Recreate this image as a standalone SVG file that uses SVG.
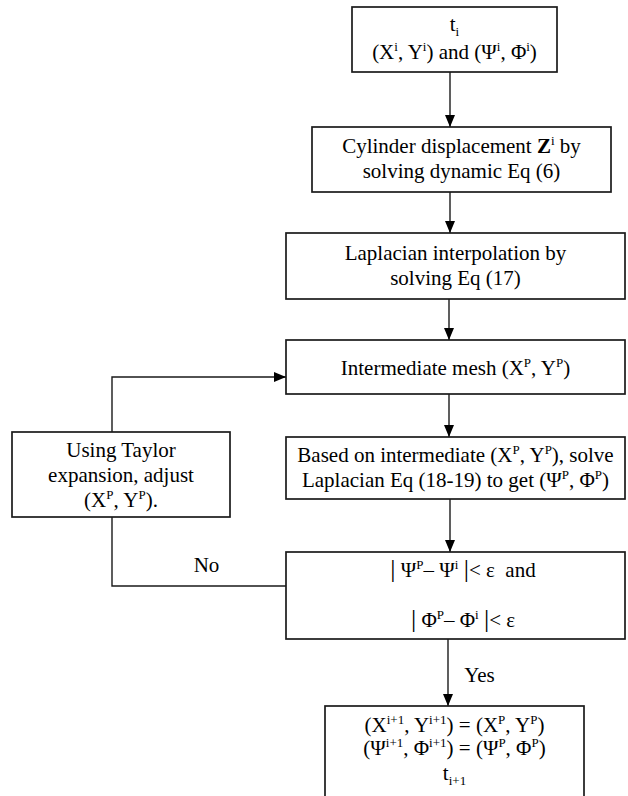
<svg xmlns="http://www.w3.org/2000/svg" width="628" height="796" viewBox="0 0 628 796">
<defs>
<style>
.box{fill:#fff;stroke:#1a1a1a;stroke-width:1.7}
.t{font-family:"Liberation Serif","Times New Roman","DejaVu Serif",serif;font-size:21px;fill:#000;text-anchor:middle}
.s{font-size:13px}
.bar{font-size:26px}
.c{fill:none;stroke:#1a1a1a;stroke-width:1.4}
</style>
<marker id="ah" markerUnits="userSpaceOnUse" markerWidth="12" markerHeight="12" viewBox="0 0 12 12" refX="12" refY="6" orient="auto">
<path d="M0,1 L12,6 L0,11 z" fill="#000"/>
</marker>
</defs>
<rect width="628" height="796" fill="#fff"/>

<g id="connectors">
<line class="c" x1="450" y1="72" x2="450" y2="127" marker-end="url(#ah)"/>
<line class="c" x1="450" y1="192" x2="450" y2="233" marker-end="url(#ah)"/>
<line class="c" x1="449" y1="299" x2="449" y2="340" marker-end="url(#ah)"/>
<line class="c" x1="449" y1="394" x2="449" y2="437" marker-end="url(#ah)"/>
<line class="c" x1="450" y1="499" x2="450" y2="552" marker-end="url(#ah)"/>
<line class="c" x1="448" y1="639" x2="448" y2="706" marker-end="url(#ah)"/>
<path class="c" d="M112,432 V377 H286" marker-end="url(#ah)"/>
<path class="c" d="M286,586 H112 V517"/>
<text class="t" x="479.5" y="682">Yes</text>
<text class="t" x="206.5" y="572">No</text>
</g>

<g id="n1">
<rect class="box" x="352" y="7" width="205" height="65"/>
<text class="t" x="454.5" y="31">t<tspan class="s" dy="5">i</tspan></text>
<text class="t" x="454.5" y="59">(X<tspan class="s" dy="-8">i</tspan><tspan dy="8">, Y</tspan><tspan class="s" dy="-8">i</tspan><tspan dy="8">) and (Ψ</tspan><tspan class="s" dy="-8">i</tspan><tspan dy="8">, Φ</tspan><tspan class="s" dy="-8">i</tspan><tspan dy="8">)</tspan></text>
</g>

<g id="n2">
<rect class="box" x="312" y="127" width="299" height="65"/>
<text class="t" x="461.5" y="153">Cylinder displacement <tspan font-weight="bold">Z</tspan><tspan class="s" dy="-8">i</tspan><tspan dy="8"> by</tspan></text>
<text class="t" x="461.5" y="178">solving dynamic Eq (6)</text>
</g>

<g id="n3">
<rect class="box" x="286" y="233" width="339" height="66"/>
<text class="t" x="455.5" y="260">Laplacian interpolation by</text>
<text class="t" x="455.5" y="285">solving Eq (17)</text>
</g>

<g id="n4">
<rect class="box" x="286" y="340" width="339" height="54"/>
<text class="t" x="455.5" y="375">Intermediate mesh (X<tspan class="s" dy="-8">P</tspan><tspan dy="8">, Y</tspan><tspan class="s" dy="-8">P</tspan><tspan dy="8">)</tspan></text>
</g>

<g id="n5">
<rect class="box" x="286" y="437" width="339" height="62"/>
<text class="t" x="455.5" y="462">Based on intermediate (X<tspan class="s" dy="-8">P</tspan><tspan dy="8">, Y</tspan><tspan class="s" dy="-8">P</tspan><tspan dy="8">), solve</tspan></text>
<text class="t" x="455.5" y="487">Laplacian Eq (18-19) to get (Ψ<tspan class="s" dy="-8">P</tspan><tspan dy="8">, Φ</tspan><tspan class="s" dy="-8">P</tspan><tspan dy="8">)</tspan></text>
</g>

<g id="n6">
<rect class="box" x="286" y="552" width="339" height="87"/>
<text class="t" x="463" y="577" xml:space="preserve"><tspan class="bar">|</tspan> Ψ<tspan class="s" dy="-8">P</tspan><tspan dy="8">– Ψ</tspan><tspan class="s" dy="-8">i</tspan><tspan dy="8"> </tspan><tspan class="bar">|</tspan>&lt; ε  and</text>
<text class="t" x="463" y="627" xml:space="preserve"><tspan class="bar">|</tspan> Φ<tspan class="s" dy="-8">P</tspan><tspan dy="8">– Φ</tspan><tspan class="s" dy="-8">i</tspan><tspan dy="8"> </tspan><tspan class="bar">|</tspan>&lt; ε</text>
</g>

<g id="n7">
<rect class="box" x="12" y="432" width="218" height="85"/>
<text class="t" x="121" y="457">Using Taylor</text>
<text class="t" x="121" y="482">expansion, adjust</text>
<text class="t" x="121" y="507">(X<tspan class="s" dy="-8">P</tspan><tspan dy="8">, Y</tspan><tspan class="s" dy="-8">P</tspan><tspan dy="8">).</tspan></text>
</g>

<g id="n8">
<rect class="box" x="325" y="706" width="259" height="100"/>
<text class="t" x="454.5" y="732">(X<tspan class="s" dy="-8">i+1</tspan><tspan dy="8">, Y</tspan><tspan class="s" dy="-8">i+1</tspan><tspan dy="8">) = (X</tspan><tspan class="s" dy="-8">P</tspan><tspan dy="8">, Y</tspan><tspan class="s" dy="-8">P</tspan><tspan dy="8">)</tspan></text>
<text class="t" x="454.5" y="755">(Ψ<tspan class="s" dy="-8">i+1</tspan><tspan dy="8">, Φ</tspan><tspan class="s" dy="-8">i+1</tspan><tspan dy="8">) = (Ψ</tspan><tspan class="s" dy="-8">P</tspan><tspan dy="8">, Φ</tspan><tspan class="s" dy="-8">P</tspan><tspan dy="8">)</tspan></text>
<text class="t" x="454.5" y="780">t<tspan class="s" dy="5">i+1</tspan></text>
</g>
</svg>
